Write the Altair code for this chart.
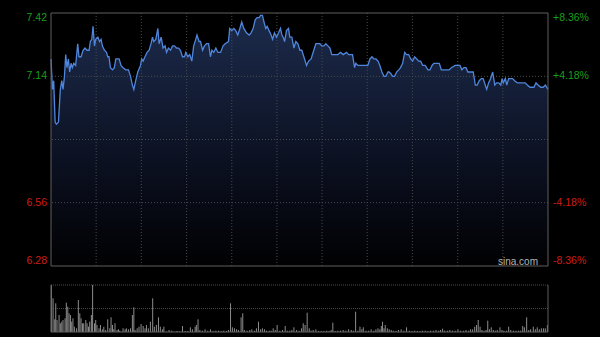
import altair as alt
import pandas as pd

# ---------------- data ----------------
PREV_CLOSE = 6.85
Y_LO, Y_HI = 6.269, 7.431          # price range of the main panel
T_END = 240                          # minutes in the trading day

# minutes since open
price_t = [
    0.0, 0.7, 1.3, 2.0, 2.6, 3.6, 4.5, 5.2, 5.8, 6.5, 7.1, 7.7, 8.4, 9.0, 9.7, 10.3, 11.0, 11.9, 12.9, 13.5,
    14.5, 15.5, 16.4, 17.4, 18.4, 19.0, 19.7, 20.3, 21.0, 21.6, 22.6, 23.5, 24.2, 24.8, 25.8, 26.8, 27.4, 28.0,
    28.7, 29.7, 30.6, 31.3, 32.9, 33.8, 34.8, 36.1, 37.4, 38.4, 39.3, 40.0, 40.9, 41.9, 43.2, 43.8, 44.5, 45.4,
    46.4, 47.4, 48.3, 49.0,
    49.6, 50.6, 51.6, 52.2, 53.2, 54.1, 55.1, 55.8, 56.7, 57.7, 58.7, 59.6, 60.6, 61.6, 62.5, 63.5, 64.5, 65.1,
    66.1, 67.0, 68.0, 68.9, 69.9, 70.5, 71.5, 72.2, 73.2, 74.1, 75.1, 76.1, 77.0, 77.7, 78.6, 79.6, 80.6, 81.9,
    83.1, 84.1, 85.7, 86.3, 87.3, 88.3, 89.2, 90.2, 91.2, 92.1, 93.1, 94.4, 95.7, 96.6, 97.6,
    98.6, 99.5, 100.5, 101.2, 102.1, 103.1, 103.7, 104.4, 105.3, 106.3, 107.0, 107.9, 108.9, 109.9, 110.8,
    111.5, 112.1, 112.8, 113.7, 114.7, 115.3, 116.3, 117.3, 118.2, 119.2, 120.2, 121.1, 122.1, 123.4, 124.4,
    125.6, 126.9, 127.9, 128.9, 129.8, 130.8, 131.8, 132.7, 133.7, 134.7, 135.6, 136.9, 138.5, 139.8, 141.1,
    142.7, 143.7, 144.7, 145.6,
    146.6, 147.2, 148.2, 149.5, 150.5, 151.7, 153.0, 154.0, 155.0, 155.9, 156.9, 157.9, 158.8, 159.8, 160.8,
    161.7, 162.7, 163.3, 164.3, 165.0, 165.9, 166.9, 167.9, 168.8, 169.8, 170.8, 171.7, 172.7, 173.7, 174.6,
    175.6, 176.6, 177.5, 178.5, 179.5, 180.7, 182.0, 183.0, 184.0, 184.9, 186.2, 187.5, 188.5, 189.8, 191.1,
    192.3, 193.3,
    195.2, 196.5, 197.5, 198.4, 199.4, 200.4, 201.3, 202.7, 203.9, 204.9, 205.8, 206.8, 207.8, 208.7, 209.7,
    210.4, 211.3, 212.3, 213.3, 214.3, 215.2, 216.2, 217.2, 217.8, 218.4, 219.4, 220.1, 221.0, 222.0, 222.9,
    223.9, 225.2, 226.5, 227.8, 229.0, 230.0, 231.3, 232.3, 233.2, 234.2, 235.2, 236.5, 237.7, 238.7, 240.0,
]
price_v = [
    7.22, 7.08, 7.12, 6.93, 6.92, 6.93, 7.08, 7.12, 7.08, 7.14, 7.24, 7.18, 7.22, 7.16, 7.20, 7.18, 7.20, 7.19, 7.29, 7.23,
    7.23, 7.26, 7.27, 7.26, 7.26, 7.30, 7.31, 7.37, 7.28, 7.31, 7.32, 7.30, 7.31, 7.28, 7.26, 7.25, 7.23, 7.23,
    7.18, 7.17, 7.18, 7.22, 7.22, 7.19, 7.18, 7.17, 7.17, 7.14, 7.10, 7.08, 7.12, 7.16, 7.19, 7.22, 7.21, 7.23,
    7.25, 7.26, 7.29, 7.32,
    7.30, 7.31, 7.36, 7.29, 7.32, 7.27, 7.28, 7.25, 7.27, 7.26, 7.28, 7.28, 7.27, 7.27, 7.26, 7.23, 7.23, 7.25,
    7.23, 7.24, 7.21, 7.28, 7.31, 7.33, 7.30, 7.30, 7.26, 7.28, 7.29, 7.29, 7.23, 7.26, 7.25, 7.27, 7.25, 7.25,
    7.28, 7.29, 7.30, 7.36, 7.35, 7.36, 7.35, 7.33, 7.36, 7.39, 7.36, 7.34, 7.33, 7.34, 7.36,
    7.40, 7.41, 7.41, 7.42, 7.42, 7.38, 7.36, 7.37, 7.35, 7.33, 7.31, 7.34, 7.32, 7.34, 7.36,
    7.33, 7.32, 7.30, 7.35, 7.36, 7.32, 7.32, 7.27, 7.30, 7.29, 7.26, 7.26, 7.23, 7.19, 7.21,
    7.22, 7.26, 7.29, 7.29, 7.29, 7.28, 7.28, 7.29, 7.28, 7.27, 7.24, 7.24, 7.24, 7.25, 7.24,
    7.25, 7.24, 7.24, 7.24,
    7.18, 7.20, 7.19, 7.19, 7.19, 7.19, 7.19, 7.22, 7.23, 7.22, 7.22, 7.21, 7.19, 7.16, 7.14,
    7.14, 7.16, 7.16, 7.15, 7.14, 7.14, 7.16, 7.17, 7.18, 7.20, 7.25, 7.24, 7.24, 7.22, 7.21,
    7.23, 7.22, 7.21, 7.21, 7.19, 7.19, 7.17, 7.17, 7.19, 7.20, 7.20, 7.20, 7.17, 7.17, 7.17,
    7.17, 7.18,
    7.19, 7.19, 7.19, 7.17, 7.18, 7.18, 7.16, 7.16, 7.16, 7.10, 7.10, 7.12, 7.13, 7.13, 7.10,
    7.08, 7.11, 7.13, 7.16, 7.10, 7.11, 7.11, 7.10, 7.13, 7.11, 7.13, 7.10, 7.13, 7.13, 7.13,
    7.12, 7.11, 7.11, 7.11, 7.11, 7.10, 7.09, 7.09, 7.09, 7.11, 7.10, 7.09, 7.09, 7.10, 7.08,
]

vol_t = [
    0.2, 1.0, 1.8, 2.3, 2.9, 3.9, 4.5, 5.2, 5.8, 6.8, 7.4, 8.1, 8.7, 9.4, 10.0, 10.6, 11.3, 12.3, 13.2, 13.9,
    14.5, 15.2, 15.8, 16.8, 17.4, 18.1, 18.7, 19.5, 20.1, 21.0, 21.6, 22.2, 23.2, 23.9, 24.8, 25.5, 26.4, 27.4,
    28.4, 29.0, 29.7, 30.3, 30.9, 31.9, 32.6, 33.2, 34.2, 34.8, 35.8, 36.4, 37.4, 38.4, 39.3, 40.0, 40.6, 41.6,
    42.5, 43.5, 44.5, 45.4, 46.1, 47.0, 48.0, 49.1, 49.9, 50.9, 51.9, 52.8, 53.8, 54.5, 55.7, 57.0, 58.3, 59.6,
    60.9, 62.2, 63.5, 64.8, 66.1, 67.3, 68.3, 69.6, 70.2, 71.0, 71.9, 73.1, 74.4, 75.7, 77.0, 78.3, 79.6, 80.9,
    82.2, 83.4, 84.7, 85.7, 86.7, 87.6, 88.6, 89.6, 90.5, 91.8, 92.6, 93.4, 94.7, 96.0, 97.0, 98.3, 99.2, 100.2,
    101.2, 102.1, 103.1, 104.1, 105.4, 106.3, 107.3, 108.3, 109.2, 110.5, 111.8, 113.1, 114.1, 115.3, 116.3,
    117.3, 118.6, 119.8,
    121.0, 121.8, 122.7, 123.7, 124.7, 125.6, 126.6, 127.9, 129.2, 130.5, 131.8, 133.1, 134.3, 135.3, 136.1,
    137.2, 138.5, 139.8, 141.1, 142.4, 143.7, 145.0, 146.0, 147.1, 148.2, 149.2, 150.1, 150.8, 152.1, 153.4,
    154.6, 155.9, 156.9, 157.9, 158.8, 159.5, 160.1, 160.8, 161.4, 162.4, 163.3, 164.3, 165.3, 166.6, 167.8,
    169.1, 170.4, 171.7, 173.0, 174.3, 175.6, 176.9, 178.2, 179.4, 180.7, 182.0, 183.3, 184.6, 185.9, 187.2,
    188.1, 189.1, 190.1, 191.4, 192.6, 193.9, 195.2, 196.5, 197.8, 199.1, 200.4, 201.7, 202.6, 203.6, 204.6,
    205.5, 206.3, 207.2, 208.1, 209.1, 210.1, 210.9, 211.7, 212.6, 213.6, 214.6, 215.5, 216.8, 217.8, 218.7,
    220.0, 221.0, 222.0, 223.3, 224.5, 225.8, 226.8, 227.8, 228.6, 229.7, 230.7, 231.6, 232.9, 233.9, 234.8,
    235.8, 236.8, 237.8, 238.7, 239.7,
]
vol_v = [
    47, 33.7, 12.7, 28.7, 12, 17, 8.7, 10.3, 12, 13.7, 29.3, 25.3, 18.7, 17, 10.3, 13.7, 5.3, 3.7, 32, 18.7,
    13.7, 8.7, 8.7, 12, 8.7, 5.3, 10.3, 17, 47, 8.7, 12, 7, 3.7, 7, 2.7, 5.3, 2, 12.7,
    3.7, 14.7, 7, 2.7, 8.7, 2, 2.7, 1.3, 0.3, 3.7, 2.7, 3.7, 2.7, 3.7, 17, 24.7, 2, 3.7,
    5.3, 8, 6, 3.7, 7, 3.7, 10.3, 33.7, 5.3, 7, 14.7, 5.3, 2.7, 5.3, 0.3, 2, 1.3, 0.3,
    1, 0.7, 6, 1, 1, 4.7, 2.7, 5.3, 7, 12.7, 2, 1.3, 2.7, 1.3, 2.7, 1, 1.3, 1.3,
    1, 1.3, 1, 2, 28.7, 4.7, 3.7, 2.7, 2, 14.7, 18.7, 2, 1.3, 2, 2.7, 1.3, 3.7, 10.3,
    2.7, 3.7, 2.7, 1.3, 1.3, 1.3, 3.7, 2, 7, 1.3, 2, 6, 1.3, 1.3, 2,
    4.7, 2, 1.3,
    3.7, 8.7, 7, 19.3, 3.7, 1.3, 2, 2.7, 1, 1, 1, 1.3, 1, 2, 9.3,
    1, 1.3, 1.3, 2, 1.3, 2.7, 2, 1.3, 20.3, 1.3, 5.3, 2.7, 4.7, 1.3, 1.3,
    2.7, 1.3, 2.7, 3.7, 2.7, 6, 10.3, 3.7, 7, 3.7, 2.7, 2, 1.3, 1, 2,
    2.7, 1.3, 4.7, 1.3, 1, 1.3, 1, 1, 1.3, 1.3, 1, 1.3, 1.3, 2, 1.3,
    2, 3.3, 1.3, 1.3, 2, 1.3, 1.3, 2.7, 1.3, 1.3, 2, 1.3, 2.7, 2.7, 5.3,
    7, 12, 5.3, 2, 1.3, 2, 11.3, 2.7, 4.7, 2, 1.3, 2, 4.7, 2, 1.3,
    1.3, 5.3, 2, 1.3, 1.3, 1.3, 1.3, 6, 4.7, 14.7, 2, 2.7, 5.3, 2.7, 4.7,
    2.7, 3.7, 3.7, 3.7, 7,
]
VOL_MAX = 47

label_prices = [7.42, 7.14, 6.56, 6.28]
left_labels = ["7.42", "7.14", "6.56", "6.28"]
right_labels = ["+8.36%", "+4.18%", "-4.18%", "-8.36%"]
grid_prices = [7.14, 6.85, 6.56]
grid_times = [21.8, 43.6, 65.5, 87.3, 109.1, 130.9, 152.7, 174.5, 196.4, 218.2]

# ---------------- chart ----------------
W, H = 497, 319        # whole drawing area (price panel + volume panel)
MAIN_H = 253
VOL_H = 47
FONT = "Liberation Sans"
GREEN, RED = "#1b9e1b", "#d01c12"
GRID = "#4a4a4a"
FRAME = "#5e5e5e"

price_df = pd.DataFrame({"t": price_t, "p": price_v})
vol_df = pd.DataFrame({"t": vol_t, "v": vol_v})
lab_df = pd.DataFrame({"p": label_prices, "left": left_labels, "right": right_labels})
one = pd.DataFrame({"k": [0]})

xs = alt.Scale(domain=[0, T_END], nice=False, zero=False)
ps = alt.Scale(domain=[Y_LO, Y_HI], range=[MAIN_H, 0], nice=False, zero=False)
vs = alt.Scale(domain=[0, VOL_MAX], range=[H, H - VOL_H], nice=False, zero=False)

X = alt.X("t:Q", scale=xs, axis=None)
Yp = alt.Y("p:Q", scale=ps, axis=None)

fill = alt.Gradient(
    gradient="linear",
    stops=[alt.GradientStop(color="#1c2b4c", offset=0),
           alt.GradientStop(color="#0b1020", offset=0.6),
           alt.GradientStop(color="#010102", offset=1)],
    x1=0, x2=0, y1=0, y2=1,
)

area = alt.Chart(price_df).mark_area(color=fill).encode(
    x=X, y=Yp, y2=alt.datum(Y_LO)
)

hgrid = alt.Chart(pd.DataFrame({"p": grid_prices})).mark_rule(
    color=GRID, strokeDash=[1, 2], strokeWidth=1
).encode(y=Yp)

vgrid = alt.Chart(pd.DataFrame({"t": grid_times})).mark_rule(
    color=GRID, strokeDash=[1, 2], strokeWidth=1
).encode(x=X, y=alt.YDatum(Y_LO, scale=ps, axis=None), y2=alt.datum(Y_HI))

line = alt.Chart(price_df).mark_line(color="#4f86dc", strokeWidth=1.3).encode(x=X, y=Yp)

frame = alt.Chart(one).mark_rect(fillOpacity=0, stroke=FRAME, strokeWidth=1).encode(
    x=alt.XDatum(0, scale=xs, axis=None), x2=alt.datum(T_END),
    y=alt.YDatum(Y_LO, scale=ps, axis=None), y2=alt.datum(Y_HI),
)

vol_grid = alt.Chart(pd.DataFrame({"v": [VOL_MAX, VOL_MAX / 2]})).mark_rule(
    color=GRID, strokeDash=[1, 1], strokeWidth=1
).encode(y=alt.Y("v:Q", scale=vs, axis=None))

bars = alt.Chart(vol_df).mark_rule(color="#8c8c8c", strokeWidth=1).encode(
    x=X, y=alt.Y("v:Q", scale=vs, axis=None), y2=alt.datum(0)
)

vol_sides = alt.Chart(pd.DataFrame({"t": [0, T_END]})).mark_rule(color=FRAME, strokeWidth=1).encode(
    x=X, y=alt.YDatum(0, scale=vs, axis=None), y2=alt.datum(VOL_MAX)
)
vol_base = alt.Chart(pd.DataFrame({"v": [0]})).mark_rule(color=FRAME, strokeWidth=1).encode(
    y=alt.Y("v:Q", scale=vs, axis=None)
)


def labels(field, xpix, align, test, dy):
    return alt.Chart(lab_df).transform_filter(test).transform_calculate(
        col=f"datum.p > {PREV_CLOSE} ? '{GREEN}' : '{RED}'"
    ).mark_text(align=align, baseline="middle", font=FONT, fontSize=10.5, dy=dy).encode(
        x=alt.value(xpix), y=Yp, text=f"{field}:N", color=alt.Color("col:N", scale=None)
    )


texts = []
for field, xpix, align in [("left", -4, "right"), ("right", W + 5, "left")]:
    texts.append(labels(field, xpix, align, "datum.p > 7.3", 2.5))
    texts.append(labels(field, xpix, align, "datum.p < 6.4", -2.5))
    texts.append(labels(field, xpix, align, "datum.p >= 6.4 && datum.p <= 7.3", 0))

brand = alt.Chart(one).mark_text(
    text="sina.com", align="right", baseline="middle", font=FONT, fontSize=10, color="#b4b4b4"
).encode(x=alt.value(487), y=alt.value(249))

chart = alt.layer(
    area, hgrid, vgrid, line, frame, vol_grid, bars, vol_sides, vol_base, brand, *texts
).resolve_scale(y="independent").properties(
    width=W, height=H,
    autosize=alt.AutoSizeParams(type="none"),
    padding={"left": 51, "top": 13, "right": 52, "bottom": 5},
    background="#000000",
).configure_view(stroke=None)

chart.save("out.html", embed_options={"renderer": "svg", "actions": False})
